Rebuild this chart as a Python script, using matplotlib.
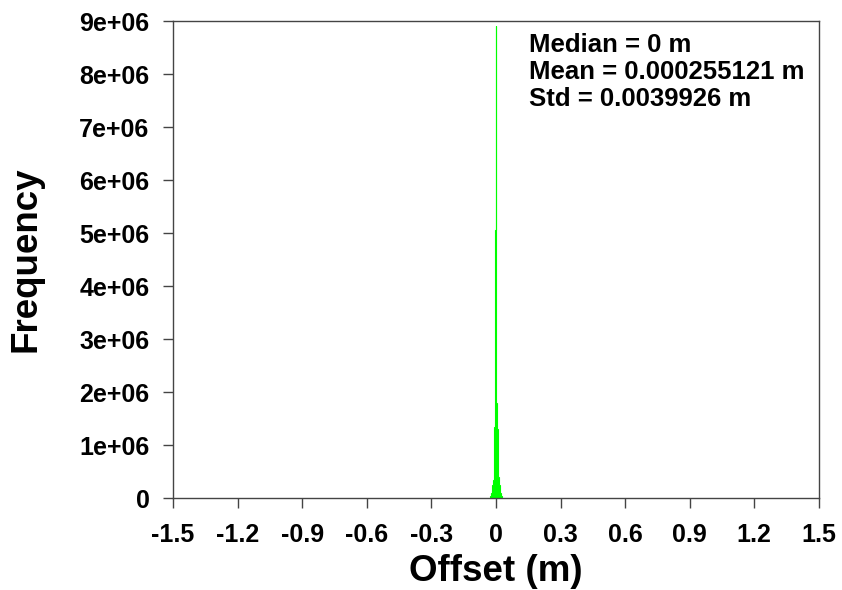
import matplotlib.pyplot as plt
import numpy as np

plt.rcParams['font.family'] = ['Liberation Sans', 'DejaVu Sans']
plt.rcParams['font.weight'] = 'bold'

# Histograma de offsets (bins de 0.004 m)
bin_edges = np.round(np.arange(-0.026, 0.0261, 0.004), 4)
counts = [0.04e6, 0.1e6, 0.25e6, 0.35e6, 1.35e6, 5.05e6, 8.9e6,
          1.8e6, 1.3e6, 0.4e6, 0.25e6, 0.1e6, 0.04e6]

x_ticks = [-1.5, -1.2, -0.9, -0.6, -0.3, 0, 0.3, 0.6, 0.9, 1.2, 1.5]
x_ticklabels = ['-1.5', '-1.2', '-0.9', '-0.6', '-0.3', '0', '0.3', '0.6', '0.9', '1.2', '1.5']
y_ticks = [0, 1e6, 2e6, 3e6, 4e6, 5e6, 6e6, 7e6, 8e6, 9e6]
y_ticklabels = ['0', '1e+06', '2e+06', '3e+06', '4e+06', '5e+06', '6e+06', '7e+06', '8e+06', '9e+06']

stats = ['Median = 0 m', 'Mean = 0.000255121 m', 'Std = 0.0039926 m']

fig = plt.figure(figsize=(8.42, 5.90), dpi=100)
ax = fig.add_axes([0.2055, 0.1558, 0.767, 0.8085])

ax.stairs(counts, bin_edges, fill=True, facecolor='#00ff00',
          edgecolor='#00ff00', linewidth=0.8)

ax.set_xlim(-1.5, 1.5)
ax.set_ylim(0, 9e6)
ax.set_xticks(x_ticks)
ax.set_xticklabels(x_ticklabels)
ax.set_yticks(y_ticks)
ax.set_yticklabels(y_ticklabels)
ax.tick_params(axis='both', direction='out', length=7, width=1, colors='#444444',
               labelsize=18, labelcolor='black', top=False, right=False)
ax.tick_params(axis='y', pad=10)
ax.tick_params(axis='x', pad=11)
for s in ax.spines.values():
    s.set_color('#444444')
    s.set_linewidth(1)

ax.set_xlabel('Offset (m)', fontsize=26.5, fontweight='bold', labelpad=5)
ax.set_ylabel('Frequency', fontsize=26.5, fontweight='bold', labelpad=26)

for i, t in enumerate(stats):
    ax.text(0.551, 0.950 - i * 0.057, t, transform=ax.transAxes,
            fontsize=18.5, fontweight='bold', va='center', ha='left')

fig.savefig('out.png', dpi=100)
